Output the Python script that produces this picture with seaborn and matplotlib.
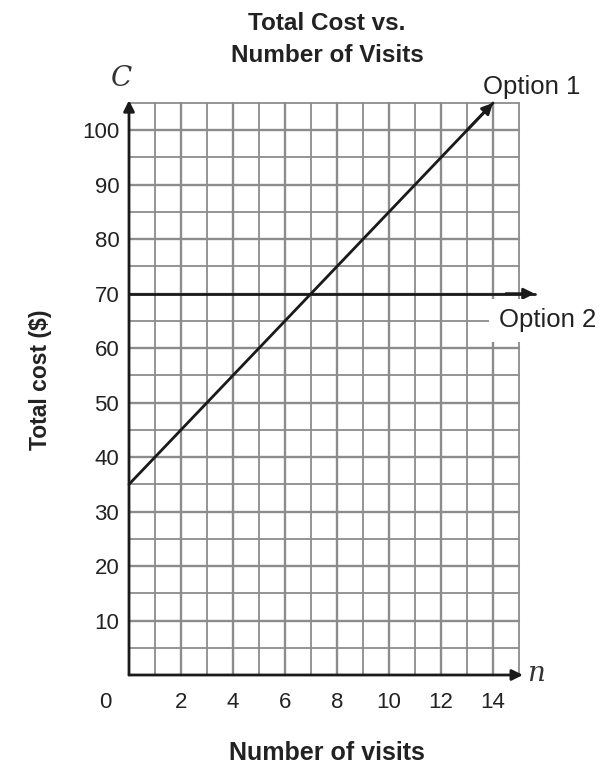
import numpy as np
import pandas as pd
import matplotlib
matplotlib.use("Agg")
import matplotlib.pyplot as plt
import seaborn as sns

# data
visits = [0, 14]
option1_cost = [35, 105]
option2_visits = [0, 15.6]
option2_cost = [70, 70]
x_ticks = [2, 4, 6, 8, 10, 12, 14]
y_ticks = [10, 20, 30, 40, 50, 60, 70, 80, 90, 100]

sns.set_style("white")
plt.rcParams['font.family'] = ['Liberation Sans', 'DejaVu Sans']

fig = plt.figure(figsize=(6.04, 7.68), dpi=100)
ax = fig.add_axes([129 / 604, 1 - 675 / 768, 390 / 604, 572 / 768])

# grid
for x in range(1, 16):
    ax.axvline(x, color='#8c8c8c', lw=1.7 if x % 2 == 0 else 1.3, zorder=1)
for y in range(5, 106, 5):
    ax.axhline(y, color='#8c8c8c', lw=1.7 if y % 10 == 0 else 1.3, zorder=1)

df1 = pd.DataFrame({'n': visits, 'C': option1_cost})
df2 = pd.DataFrame({'n': option2_visits, 'C': option2_cost})
sns.lineplot(data=df1, x='n', y='C', ax=ax, color='#1a1a1a', lw=2, zorder=3)
sns.lineplot(data=df2, x='n', y='C', ax=ax, color='#1a1a1a', lw=2, zorder=3)
for line in ax.lines:
    line.set_clip_on(False)
ax.set_xlim(0, 15)
ax.set_ylim(0, 105)
ax.set_xlabel('')
ax.set_ylabel('')

arrow = dict(arrowstyle='-|>', color='#1a1a1a', lw=2, mutation_scale=16, shrinkA=0, shrinkB=0)
ax.annotate('', xy=(visits[1], option1_cost[1]), xytext=(13, 100), arrowprops=arrow,
            annotation_clip=False, zorder=4)
ax.annotate('', xy=(option2_visits[1], 70), xytext=(14.5, 70), arrowprops=arrow,
            annotation_clip=False, zorder=4)

# axes with arrows
ax.annotate('', xy=(0, 105.5), xytext=(0, 0), arrowprops=arrow, annotation_clip=False, zorder=4)
ax.annotate('', xy=(15.15, 0), xytext=(0, 0), arrowprops=arrow, annotation_clip=False, zorder=4)
for s in ax.spines.values():
    s.set_visible(False)

ax.set_xticks(x_ticks)
ax.set_yticks(y_ticks)
ax.tick_params(axis='both', length=0, labelsize=16, colors='#222222')
ax.tick_params(axis='x', pad=12)
ax.tick_params(axis='y', pad=7)
ax.text(-0.92, -5.1, '0', ha='center', va='center', fontsize=16, color='#222222')

ax.text(-0.27, 109.5, 'C', fontsize=20, style='italic', family='DejaVu Serif', ha='center', va='center', color='#333333')
ax.text(15.65, 0.3, 'n', fontsize=20, style='italic', family='DejaVu Serif', ha='center', va='center', color='#333333')

ax.text(15.5, 107.9, 'Option 1', fontsize=18.5, ha='center', va='center', color='#222222')
ax.text(16.1, 65.1, 'Option 2', fontsize=18.5, ha='center', va='center', color='#222222',
        bbox=dict(facecolor='white', edgecolor='none', pad=7), zorder=5)

fig.text(327 / 604, 1 - 39 / 768, 'Total Cost vs.\nNumber of Visits', fontsize=17.5, fontweight='bold',
         ha='center', va='center', color='#222222', linespacing=1.5)
fig.text(327 / 604, 1 - 753 / 768, 'Number of visits', fontsize=18, fontweight='bold',
         ha='center', va='center', color='#222222')
fig.text(40 / 604, 1 - 380 / 768, 'Total cost ($)', fontsize=16.5, fontweight='bold', rotation=90,
         ha='center', va='center', color='#222222')
ax.set_facecolor('white')

fig.savefig('out.png', dpi=100)
